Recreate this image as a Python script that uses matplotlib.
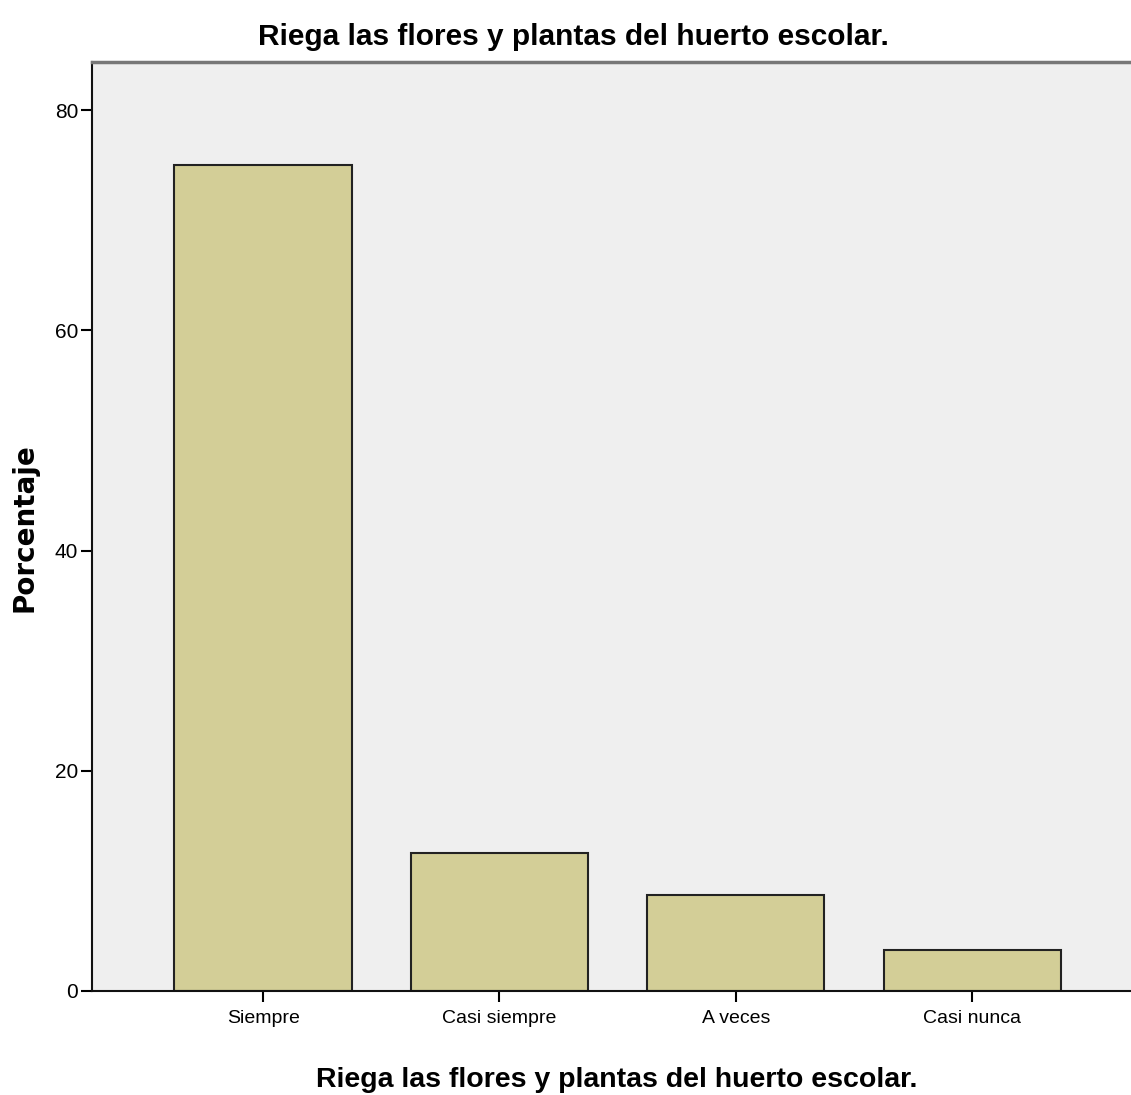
#bar chart of percentages, SPSS look
from matplotlib import pyplot as plt
import numpy as np

#data
categorias = ['Siempre', 'Casi siempre', 'A veces', 'Casi nunca']
porcentajes = [75.0, 12.5, 8.75, 3.75]
titulo = 'Riega las flores y plantas del huerto escolar.'
yticks = [0, 20, 40, 60, 80]

plt.rcParams['font.family'] = ['Liberation Sans', 'DejaVu Sans']

fig = plt.figure(figsize=(11.31, 10.95), dpi=100)
ax = fig.add_axes([92/1131, 104/1095, 1.0 - 92/1131 + 0.01, (991-62)/1095])
ax.set_facecolor('#efefef')

x = np.arange(len(categorias))
ax.bar(x, porcentajes, width=0.75, color='#d3ce97', edgecolor='#222222', linewidth=1.5, zorder=2)

ax.set_xlim(-0.724, 3.72)
ax.set_ylim(0, 84.36)
ax.set_yticks(yticks)
ax.set_xticks(x)
ax.set_xticklabels(categorias, fontsize=14)
ax.tick_params(axis='y', labelsize=15, length=8, width=1.5, pad=2)
ax.tick_params(axis='x', length=8, width=1.5, pad=6)

for s in ['left', 'bottom']:
    ax.spines[s].set_color('#111111')
    ax.spines[s].set_linewidth(1.5)
ax.spines['top'].set_color('#777777')
ax.spines['top'].set_linewidth(2.5)
ax.spines['right'].set_visible(False)

#titles
fig.text(573/1131, 1 - 37/1095, titulo, ha='center', va='center', fontsize=21.5, fontweight='bold')
fig.text(617/1131, 1 - 1080/1095, titulo, ha='center', va='center', fontsize=20.5, fontweight='bold')
fig.text(25/1131, 1 - 528/1095, 'Porcentaje', ha='center', va='center', rotation=90,
         fontsize=20, fontweight='bold', family='DejaVu Sans')

fig.savefig('out.png', dpi=100)
